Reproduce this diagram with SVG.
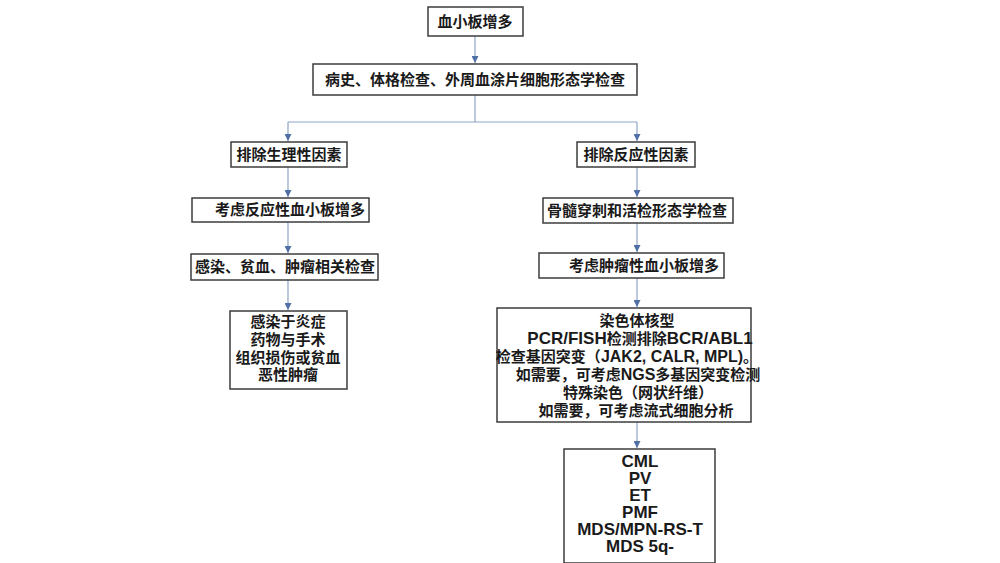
<svg xmlns="http://www.w3.org/2000/svg" width="1000" height="563" viewBox="0 0 1000 563">
<style>
.box{fill:#ffffff;stroke:#3c3c3c;stroke-width:1.5}
.t{font-family:"Liberation Sans","Noto Sans CJK SC",sans-serif;font-weight:bold;font-size:15px;fill:#1a1a1a;text-anchor:middle}
.l{font-size:17px}
.m{font-size:16px}
.c{fill:none;stroke:#8da3c6;stroke-width:1.2}
</style>
<defs>
<marker id="ah" viewBox="0 0 8 8" refX="8" refY="4" markerWidth="7" markerHeight="7" orient="auto" markerUnits="userSpaceOnUse">
<path d="M0,0 L8,4 L0,8 Z" fill="#4f6fa5"/>
</marker>
</defs>
<rect width="1000" height="563" fill="#ffffff"/>
<g id="connectors">
<path class="c" d="M475,36 V63" marker-end="url(#ah)"/>
<path class="c" d="M475,95 V122 M288,122 H637"/>
<path class="c" d="M288,122 V141" marker-end="url(#ah)"/>
<path class="c" d="M637,122 V141" marker-end="url(#ah)"/>
<path class="c" d="M288,167 V197" marker-end="url(#ah)"/>
<path class="c" d="M288,222 V253" marker-end="url(#ah)"/>
<path class="c" d="M288,280 V310" marker-end="url(#ah)"/>
<path class="c" d="M637,167 V197" marker-end="url(#ah)"/>
<path class="c" d="M637,223 V252" marker-end="url(#ah)"/>
<path class="c" d="M637,278 V307" marker-end="url(#ah)"/>
<path class="c" d="M637,422 V448" marker-end="url(#ah)"/>
</g>
<g id="n1"><rect class="box" x="428" y="7" width="95" height="29"/><text class="t" x="475" y="27">血小板增多</text></g>
<g id="n2"><rect class="box" x="313" y="64" width="324" height="31"/><text class="t" x="475" y="85">病史、体格检查、外周血涂片细胞形态学检查</text></g>
<g id="n3"><rect class="box" x="231" y="142" width="116" height="25"/><text class="t" x="289" y="160">排除生理性因素</text></g>
<g id="n4"><rect class="box" x="577" y="142" width="118" height="25"/><text class="t" x="636" y="160">排除反应性因素</text></g>
<g id="n5"><rect class="box" x="192" y="198" width="177" height="24"/><text class="t" x="290" y="215">考虑反应性血小板增多</text></g>
<g id="n6"><rect class="box" x="543" y="198" width="190" height="25"/><text class="t" x="637" y="216">骨髓穿刺和活检形态学检查</text></g>
<g id="n7"><rect class="box" x="191" y="254" width="187" height="26"/><text class="t" x="285" y="272">感染、贫血、肿瘤相关检查</text></g>
<g id="n8"><rect class="box" x="539" y="253" width="185" height="25"/><text class="t" x="644" y="271">考虑肿瘤性血小板增多</text></g>
<g id="n9"><rect class="box" x="230" y="311" width="117" height="78"/>
<text class="t" x="288" y="327">感染于炎症</text>
<text class="t" x="288" y="345">药物与手术</text>
<text class="t" x="288" y="363">组织损伤或贫血</text>
<text class="t" x="288" y="380">恶性肿瘤</text>
</g>
<g id="n10"><rect class="box" x="497" y="308" width="254" height="114"/>
<text class="t" x="637" y="326">染色体核型</text>
<text class="t" x="640" y="344"><tspan class="l">PCR/FISH</tspan>检测排除<tspan class="l">BCR/ABL1</tspan></text>
<text class="t" x="627" y="362">检查基因突变（<tspan class="m">JAK2, CALR, MPL)</tspan>。</text>
<text class="t" x="638" y="380">如需要，可考虑<tspan class="m">NGS</tspan>多基因突变检测</text>
<text class="t" x="638" y="398">特殊染色（网状纤维）</text>
<text class="t" x="636" y="416">如需要，可考虑流式细胞分析</text>
</g>
<g id="n11"><rect class="box" x="564" y="449" width="151" height="114"/>
<text class="t l" x="640" y="467">CML</text>
<text class="t l" x="640" y="484">PV</text>
<text class="t l" x="640" y="501">ET</text>
<text class="t l" x="640" y="518">PMF</text>
<text class="t l" x="640" y="535">MDS/MPN-RS-T</text>
<text class="t l" x="640" y="552">MDS 5q-</text>
</g>
</svg>
